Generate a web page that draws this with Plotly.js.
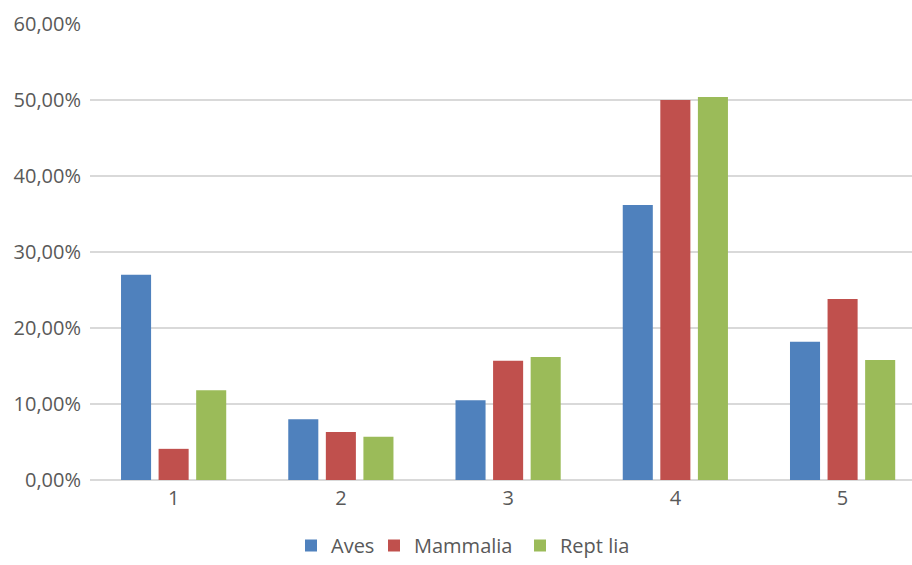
<!DOCTYPE html>
<html>
<head>
<meta charset="utf-8">
<script src="https://cdn.plot.ly/plotly-3.0.1.min.js"></script>
<style>
  html, body { margin: 0; padding: 0; background: #ffffff; }
  #chart { width: 912px; height: 565px; }
</style>
</head>
<body>
<div id="chart"></div>
<script>
// Group numbers along the x axis
const groups = [1, 2, 3, 4, 5];

// Share per group for each class (fractions, shown as percentages)
const aves     = [0.270, 0.080, 0.105, 0.362, 0.182];
const mammalia = [0.041, 0.063, 0.157, 0.500, 0.238];
const reptilia = [0.118, 0.057, 0.162, 0.504, 0.158];

const seriesNames = ['Aves', 'Mammalia', 'Rept lia'];
const yTicks = [0, 0.1, 0.2, 0.3, 0.4, 0.5, 0.6];

const colors = ['#4F81BD', '#C0504D', '#9BBB59'];
const labelColor = '#595959';
const gridColor = '#d9d9d9';
const fontFamily = '"Open Sans", "DejaVu Sans", sans-serif';

// one legend per series so each key sits at its own spot in the bottom row
const legendIds = ['legend', 'legend2', 'legend3'];
const legendLeft = [291, 374, 520];   // px from the left edge of the page

const traces = [aves, mammalia, reptilia].map((vals, i) => ({
  type: 'bar',
  name: seriesNames[i],
  x: groups,
  y: vals,
  legend: legendIds[i],
  marker: { color: colors[i], line: { width: 0 } },
  hoverinfo: 'skip'
}));

const layout = {
  width: 912,
  height: 565,
  margin: { l: 90, r: 0, t: 24, b: 85 },
  paper_bgcolor: '#ffffff',
  plot_bgcolor: '#ffffff',
  separators: ',.',
  barmode: 'group',
  bargap: 0.326,
  bargroupgap: 0.2,
  font: { family: fontFamily, size: 20, color: labelColor },
  showlegend: true,
  xaxis: {
    type: 'linear',
    range: [0.5, 5.415],
    tickvals: groups,
    ticktext: groups.map(String),
    showgrid: false,
    zeroline: false,
    showline: false,
    ticks: '',
    ticklabelstandoff: 4,
    tickfont: { family: fontFamily, size: 20, color: labelColor },
    fixedrange: true
  },
  yaxis: {
    range: [0, 0.6],
    tickvals: yTicks,
    tickformat: '.2%',
    showgrid: true,
    gridcolor: gridColor,
    gridwidth: 1.5,
    zeroline: true,
    zerolinecolor: gridColor,
    zerolinewidth: 2,
    showline: false,
    ticks: '',
    ticklabelstandoff: 8,
    tickfont: { family: fontFamily, size: 20, color: labelColor },
    fixedrange: true
  }
};

legendIds.forEach((id, i) => {
  layout[id] = {
    orientation: 'h',
    xref: 'container',
    yref: 'container',
    x: legendLeft[i] / 912,
    xanchor: 'left',
    y: -6 / 565,
    yanchor: 'bottom',
    bgcolor: 'rgba(0,0,0,0)',
    borderwidth: 0,
    font: { family: fontFamily, size: 20, color: labelColor },
    itemclick: false
  };
});

Plotly.newPlot('chart', traces, layout, { staticPlot: true, displayModeBar: false });
</script>
</body>
</html>
